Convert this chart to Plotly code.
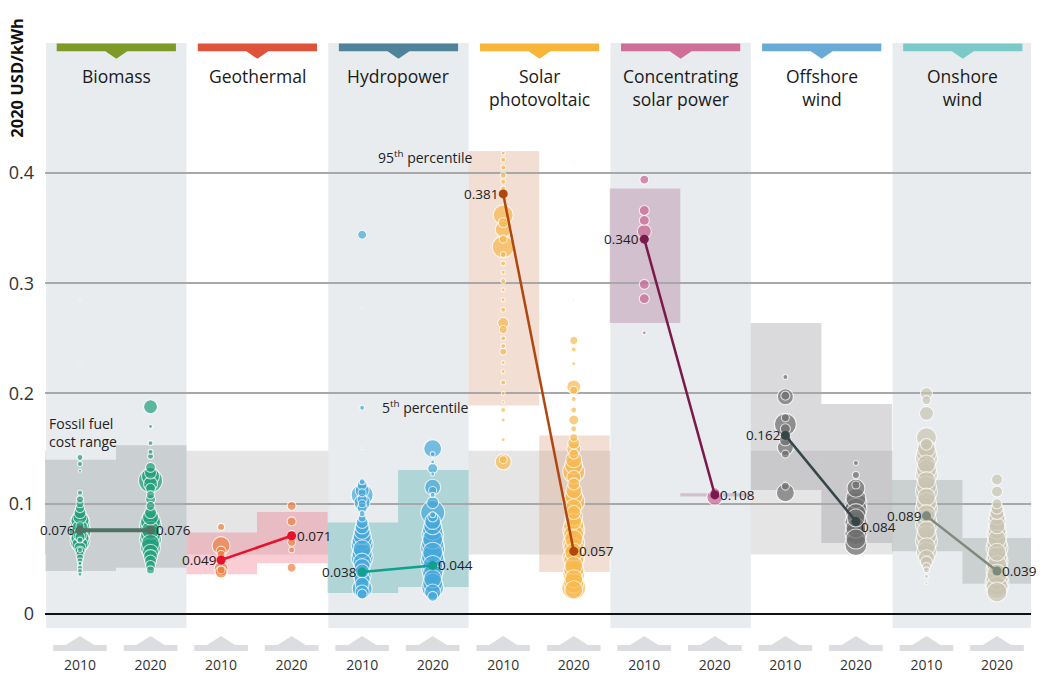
import plotly.graph_objects as go

# ---------------- data ----------------
techs = ["Biomass", "Geothermal", "Hydropower", "Solar<br>photovoltaic",
         "Concentrating<br>solar power", "Offshore<br>wind", "Onshore<br>wind"]
years = ["2010", "2020"]

avg_2010 = [0.076, 0.049, 0.038, 0.381, 0.340, 0.162, 0.089]
avg_2020 = [0.076, 0.071, 0.044, 0.057, 0.108, 0.084, 0.039]
p5_2010 = [0.039, 0.036, 0.019, 0.189, 0.264, 0.1125, 0.057]
p95_2010 = [0.140, 0.074, 0.083, 0.420, 0.386, 0.264, 0.1215]
p5_2020 = [0.042, 0.046, 0.0245, 0.038, 0.1065, 0.0644, 0.0274]
p95_2020 = [0.153, 0.0925, 0.1306, 0.162, 0.1095, 0.1905, 0.069]
fossil_low = 0.054
fossil_high = 0.148

# project-level LCOE (value, bubble size) per technology and year
bio_2010_v = [0.285, 0.228, 0.142, 0.136, 0.130, 0.110, 0.104, 0.100, 0.096, 0.092, 0.088, 0.085, 0.082,
              0.078, 0.075, 0.072, 0.069, 0.066, 0.063, 0.060, 0.057, 0.054, 0.051, 0.048, 0.045, 0.042,
              0.039, 0.036, 0.070, 0.080, 0.067, 0.058, 0.046]
bio_2010_s = [2, 2, 6, 5, 3, 5, 7, 8, 9, 12, 14, 18, 20, 16, 22, 14, 18, 20, 16, 12, 10, 8, 7, 6, 5, 5,
              5, 4, 10, 8, 6, 5, 4]
bio_2020_v = [0.188, 0.170, 0.155, 0.147, 0.143, 0.133, 0.128, 0.121, 0.114, 0.108, 0.104, 0.098, 0.092,
              0.088, 0.084, 0.080, 0.076, 0.072, 0.068, 0.064, 0.060, 0.056, 0.052, 0.048, 0.044, 0.040,
              0.118, 0.125]
bio_2020_s = [14, 4, 5, 5, 6, 10, 12, 24, 10, 8, 10, 9, 12, 16, 20, 22, 18, 20, 22, 18, 20, 16, 14, 12,
              10, 8, 14, 18]
geo_2010_v = [0.079, 0.062, 0.057, 0.054, 0.041, 0.038, 0.040]
geo_2010_s = [7, 18, 10, 8, 14, 12, 8]
geo_2020_v = [0.098, 0.084, 0.072, 0.065, 0.058, 0.042]
geo_2020_s = [9, 9, 8, 8, 6, 9]
hyd_2010_v = [0.344, 0.278, 0.187, 0.150, 0.120, 0.117, 0.112, 0.108, 0.104, 0.100, 0.096, 0.091, 0.087,
              0.083, 0.079, 0.075, 0.071, 0.067, 0.063, 0.059, 0.055, 0.051, 0.047, 0.043, 0.039, 0.035,
              0.031, 0.027, 0.023, 0.020, 0.018, 0.101, 0.110]
hyd_2010_s = [9, 2, 5, 2, 6, 10, 14, 22, 10, 8, 10, 6, 8, 12, 14, 16, 18, 20, 22, 18, 20, 22, 18, 16,
              14, 18, 16, 14, 20, 14, 10, 16, 8]
hyd_2020_v = [0.150, 0.145, 0.138, 0.132, 0.127, 0.115, 0.112, 0.108, 0.092, 0.088, 0.084, 0.080, 0.076,
              0.072, 0.068, 0.064, 0.060, 0.056, 0.052, 0.048, 0.044, 0.040, 0.036, 0.032, 0.028, 0.024,
              0.020, 0.016, 0.090, 0.101]
hyd_2020_s = [18, 5, 4, 10, 4, 16, 8, 5, 24, 10, 16, 18, 20, 22, 20, 22, 24, 20, 22, 24, 20, 22, 20, 18,
              20, 22, 16, 10, 6, 12]
pv_2010_v = [0.418, 0.412, 0.405, 0.398, 0.392, 0.386, 0.362, 0.349, 0.333, 0.355, 0.340, 0.326, 0.318,
             0.310, 0.302, 0.294, 0.285, 0.276, 0.264, 0.258, 0.250, 0.243, 0.238, 0.228, 0.220, 0.210,
             0.200, 0.192, 0.185, 0.176, 0.158, 0.138, 0.140]
pv_2010_s = [4, 5, 5, 6, 5, 5, 20, 16, 22, 10, 8, 6, 5, 4, 5, 4, 4, 5, 11, 8, 5, 5, 7, 4, 4, 5, 4, 3, 5,
             4, 4, 16, 8]
pv_2020_v = [0.410, 0.285, 0.248, 0.240, 0.227, 0.206, 0.203, 0.195, 0.185, 0.176, 0.168, 0.160, 0.155,
             0.150, 0.145, 0.140, 0.135, 0.129, 0.124, 0.118, 0.112, 0.107, 0.102, 0.097, 0.092, 0.088,
             0.084, 0.080, 0.076, 0.072, 0.068, 0.064, 0.060, 0.056, 0.052, 0.048, 0.044, 0.040, 0.036,
             0.032, 0.028, 0.024, 0.022]
pv_2020_s = [2, 2, 8, 5, 4, 14, 8, 5, 6, 10, 6, 8, 12, 14, 10, 16, 18, 22, 14, 12, 16, 18, 22, 16, 14,
             18, 16, 20, 22, 20, 18, 22, 20, 18, 22, 20, 18, 20, 22, 18, 20, 24, 18]
csp_2010_v = [0.394, 0.366, 0.357, 0.347, 0.299, 0.286, 0.255]
csp_2010_s = [9, 10, 10, 14, 10, 10, 4]
csp_2020_v = [0.106, 0.110]
csp_2020_s = [16, 10]
off_2010_v = [0.215, 0.197, 0.198, 0.178, 0.172, 0.168, 0.158, 0.151, 0.145, 0.110, 0.116]
off_2010_s = [5, 16, 9, 8, 22, 10, 12, 16, 8, 18, 8]
off_2020_v = [0.137, 0.126, 0.114, 0.117, 0.105, 0.100, 0.095, 0.091, 0.087, 0.083, 0.078, 0.073, 0.068,
              0.063]
off_2020_s = [5, 7, 18, 8, 20, 22, 22, 20, 18, 22, 20, 22, 20, 22]
on_2010_v = [0.200, 0.194, 0.182, 0.160, 0.154, 0.150, 0.146, 0.141, 0.136, 0.131, 0.126, 0.121, 0.116,
             0.111, 0.106, 0.101, 0.096, 0.091, 0.086, 0.081, 0.076, 0.071, 0.066, 0.061, 0.056, 0.051,
             0.047, 0.043, 0.040, 0.034, 0.028]
on_2010_s = [12, 9, 14, 20, 12, 18, 20, 22, 18, 20, 22, 18, 20, 22, 18, 20, 22, 18, 20, 22, 18, 20, 22,
             18, 20, 16, 12, 8, 6, 4, 3]
on_2020_v = [0.122, 0.111, 0.100, 0.096, 0.092, 0.088, 0.084, 0.080, 0.076, 0.072, 0.068, 0.064, 0.060,
             0.056, 0.052, 0.048, 0.044, 0.040, 0.036, 0.032, 0.028, 0.024, 0.020]
on_2020_s = [11, 11, 10, 12, 14, 16, 18, 16, 18, 20, 18, 20, 22, 18, 20, 22, 20, 22, 20, 22, 24, 22, 20]

points = [
    [(bio_2010_v, bio_2010_s), (bio_2020_v, bio_2020_s)],
    [(geo_2010_v, geo_2010_s), (geo_2020_v, geo_2020_s)],
    [(hyd_2010_v, hyd_2010_s), (hyd_2020_v, hyd_2020_s)],
    [(pv_2010_v, pv_2010_s), (pv_2020_v, pv_2020_s)],
    [(csp_2010_v, csp_2010_s), (csp_2020_v, csp_2020_s)],
    [(off_2010_v, off_2010_s), (off_2020_v, off_2020_s)],
    [(on_2010_v, on_2010_s), (on_2020_v, on_2020_s)],
]

# ---------------- styles ----------------
FONT = "Open Sans"
header_colors = ["#7e9a27", "#df533b", "#4f8399", "#f7b53a", "#cf6e99", "#6aaad8", "#7bc9c9"]
point_colors = ["#22a07b", "#ee8040", "#45a8dc", "#f8b94e", "#cc6595", "#6e6e6e", "#c9c4b1"]
avg_colors = ["#4f7263", "#e8112d", "#10a08e", "#b0470f", "#7a1a4c", "#354548", "#7d8a7c"]
avg_widths = [4, 2.5, 2.5, 2.5, 2.5, 2.5, 2.5]
box_colors = ["rgba(140,150,148,0.32)", "rgba(240,110,130,0.35)", "rgba(90,180,180,0.40)",
              "rgba(220,160,130,0.35)", "rgba(180,130,160,0.42)", "rgba(150,150,155,0.35)",
              "rgba(150,160,155,0.35)"]
panel_shaded = [True, False, True, False, True, False, True]
PANEL = "#e8ecef"

fig = go.Figure()
shapes = []

# panel backgrounds
for i in range(len(techs)):
    if panel_shaded[i]:
        shapes.append(dict(type="rect", xref="x", yref="y", x0=2 * i - 0.48, x1=2 * i + 1.51,
                           y0=-0.0127, y1=0.518, fillcolor=PANEL, line_width=0, layer="below"))
# fossil fuel band
shapes.append(dict(type="rect", xref="paper", yref="y", x0=0, x1=1, y0=fossil_low, y1=fossil_high,
                   fillcolor="rgba(170,170,170,0.30)", line_width=0, layer="below"))
# percentile boxes
for i in range(len(techs)):
    for k, (lo, hi) in enumerate([(p5_2010[i], p95_2010[i]), (p5_2020[i], p95_2020[i])]):
        j = 2 * i + k
        shapes.append(dict(type="rect", xref="x", yref="y", x0=j - 0.49, x1=j + 0.51, y0=lo, y1=hi,
                           fillcolor=box_colors[i], line_width=0, layer="below"))
# header bars with notch
for i in range(len(techs)):
    x0, x1, xc = 2 * i - 0.33, 2 * i + 1.36, 2 * i + 0.515
    yt, yb, ya, hw = 0.5175, 0.5105, 0.5035, 0.155
    path = (f"M {x0},{yt} L {x1},{yt} L {x1},{yb} L {xc + hw},{yb} L {xc},{ya} "
            f"L {xc - hw},{yb} L {x0},{yb} Z")
    shapes.append(dict(type="path", xref="x", yref="y", path=path, fillcolor=header_colors[i],
                       line_width=0, layer="above"))
# bottom tick decorations
for j in range(14):
    yb0, yb1, ya = -0.0336, -0.0281, -0.0200
    path = (f"M {j - 0.38},{yb0} L {j + 0.38},{yb0} L {j + 0.38},{yb1} L {j + 0.2},{yb1} "
            f"L {j},{ya} L {j - 0.2},{yb1} L {j - 0.38},{yb1} Z")
    shapes.append(dict(type="path", xref="x", yref="y", path=path, fillcolor="#dcdde0",
                       line_width=0, layer="above"))

# bubbles
for i in range(len(techs)):
    for k in range(2):
        vals, sizes = points[i][k]
        order = sorted(range(len(vals)), key=lambda n: -sizes[n])
        fig.add_trace(go.Scatter(
            x=[2 * i + k] * len(vals), y=[vals[n] for n in order], mode="markers",
            marker=dict(size=[sizes[n] for n in order], color=point_colors[i],
                        line=dict(color="white", width=1.1)),
            hoverinfo="skip", showlegend=False))

# weighted averages
annotations = []
for i in range(len(techs)):
    fig.add_trace(go.Scatter(
        x=[2 * i, 2 * i + 1], y=[avg_2010[i], avg_2020[i]], mode="lines+markers",
        line=dict(color=avg_colors[i], width=avg_widths[i]),
        marker=dict(size=9, color=avg_colors[i]), hoverinfo="skip", showlegend=False))
    annotations.append(dict(x=2 * i, y=avg_2010[i], text=f"{avg_2010[i]:.3f}", showarrow=False,
                            xanchor="right", xshift=-3, font=dict(size=13.5, color="#222", family=FONT)))
    annotations.append(dict(x=2 * i + 1, y=avg_2020[i], text=f"{avg_2020[i]:.3f}", showarrow=False,
                            xanchor="left", xshift=3, yshift=-6 if i == 5 else 0,
                            font=dict(size=13.5, color="#222", family=FONT)))

# technology titles
for i, t in enumerate(techs):
    annotations.append(dict(x=2 * i + 0.515, y=0.4895, text=t, showarrow=False, xanchor="center",
                            yanchor="top", yshift=12, font=dict(size=17.5, color="#1a1a1a", family=FONT)))

# notes
annotations += [
    dict(x=5.6, y=0.4145, text="95<sup>th</sup> percentile", showarrow=False, xanchor="right",
         font=dict(size=14, color="#222", family=FONT)),
    dict(x=4.25, y=0.1878, text="5<sup>th</sup> percentile", showarrow=False, xanchor="left",
         font=dict(size=14, color="#222", family=FONT)),
    dict(x=-0.47, y=0.165, text="Fossil fuel<br>cost range", showarrow=False, xanchor="left",
         align="left", font=dict(size=14, color="#222", family=FONT)),
    dict(xref="paper", yref="paper", x=-0.029, y=0.882, xanchor="center", yanchor="middle",
         text="<b>2020 USD/kWh</b>", textangle=-90,
         showarrow=False, font=dict(size=16.5, color="#111", family=FONT)),
]

fig.update_layout(
    width=1040, height=678, margin=dict(l=45, r=9, t=0, b=23),
    paper_bgcolor="white", plot_bgcolor="white",
    shapes=shapes, annotations=annotations, showlegend=False,
    font=dict(family=FONT, color="#333"),
    xaxis=dict(range=[-0.496, 13.482], tickvals=list(range(14)), ticktext=years * 7,
               showgrid=False, zeroline=False, showline=False, ticks="",
               tickfont=dict(size=14, color="#333", family=FONT), fixedrange=True),
    yaxis=dict(range=[-0.0372, 0.5569], tickvals=[0, 0.1, 0.2, 0.3, 0.4],
               ticktext=["0", "0.1", "0.2", "0.3", "0.4"], showgrid=True, gridcolor="#a8a8a8",
               gridwidth=1.5, zeroline=True, zerolinecolor="#111", zerolinewidth=2,
               showline=False, ticks="", ticklabelstandoff=10,
               tickfont=dict(size=18, color="#333", family=FONT), fixedrange=True),
)

fig.write_html("out.html", config={"displayModeBar": False},
               post_script="document.body.style.margin='0px';")
